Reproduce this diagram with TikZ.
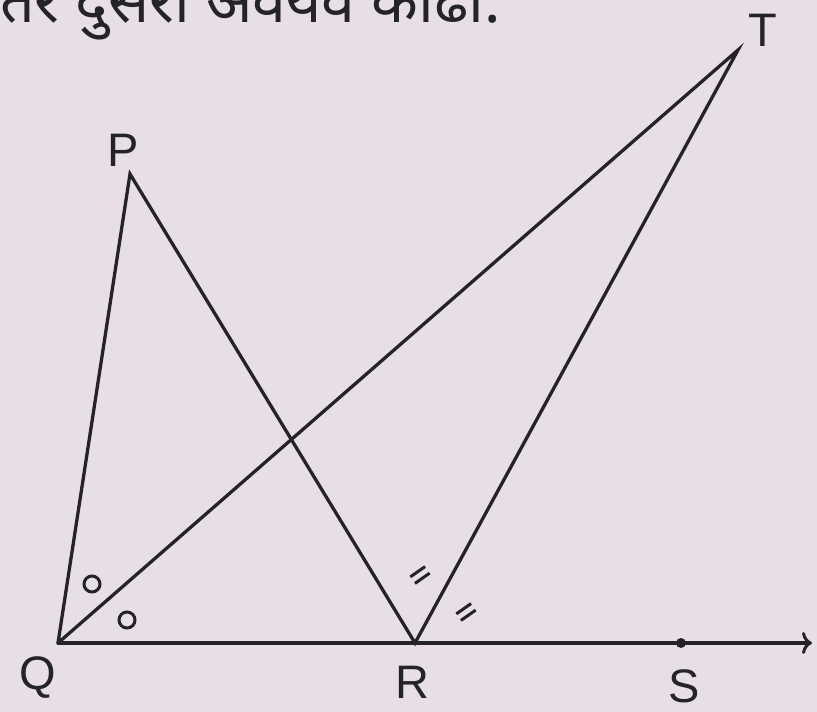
\documentclass[tikz,border=0pt]{standalone}
\usepackage{fontspec}
\setmainfont{Liberation Sans}
\newfontfamily\devfont[Script=Devanagari]{Noto Sans}
\usetikzlibrary{arrows.meta}
\definecolor{bgpink}{RGB}{232,222,232}
\definecolor{ink}{RGB}{36,36,40}
\begin{document}
\begin{tikzpicture}[x=1pt,y=-1pt,
  seg/.style={draw=ink,line width=3.3pt,line cap=round,line join=miter},
  lbl/.style={text=ink,font=\fontsize{47}{47}\selectfont,inner sep=0pt},
  tick/.style={draw=ink,line width=3pt},
  anglemark/.style={draw=ink,line width=3pt}]
\fill[bgpink] (0,0) rectangle (817,712);
\useasboundingbox (0,0) rectangle (817,712);
% header text (cut off at top, as in the source)
\node[anchor=base west,inner sep=0pt,text=ink,font=\devfont\bfseries\fontsize{61}{61}\selectfont] (hdr) at (0,23) {तर दुसरा अवयव काढा.};
% points
\coordinate (Q) at (58,643);
\coordinate (R) at (415,643);
\coordinate (S) at (681,643);
\coordinate (E) at (812,643);
\coordinate (P) at (130,174);
\coordinate (T) at (738,50);
% lines
\draw[seg] (Q) -- (P) -- (R) -- (T) -- (Q);
\draw[seg,-{To[length=10pt,width=22pt,line width=3pt]}] (Q) -- (E);
\fill[ink] (S) circle (5);
% angle marks
\draw[anglemark] (92,584) circle (8);
\draw[anglemark] (127,620) circle (8);
% double tick marks
\begin{scope}[shift={(420,575)},rotate=35]
\draw[tick] (-9,-4) -- (9,-4);
\draw[tick] (-9,4) -- (9,4);
\end{scope}
\begin{scope}[shift={(466,612)},rotate=35]
\draw[tick] (-9,-4) -- (9,-4);
\draw[tick] (-9,4) -- (9,4);
\end{scope}
% labels
\node[lbl] (lP) at (123,150) {P};
\node[lbl] (lT) at (763,30) {T};
\node[lbl] (lQ) at (38,678) {Q};
\node[lbl] (lR) at (412,682) {R};
\node[lbl] (lS) at (684,686) {S};
\end{tikzpicture}
\end{document}
